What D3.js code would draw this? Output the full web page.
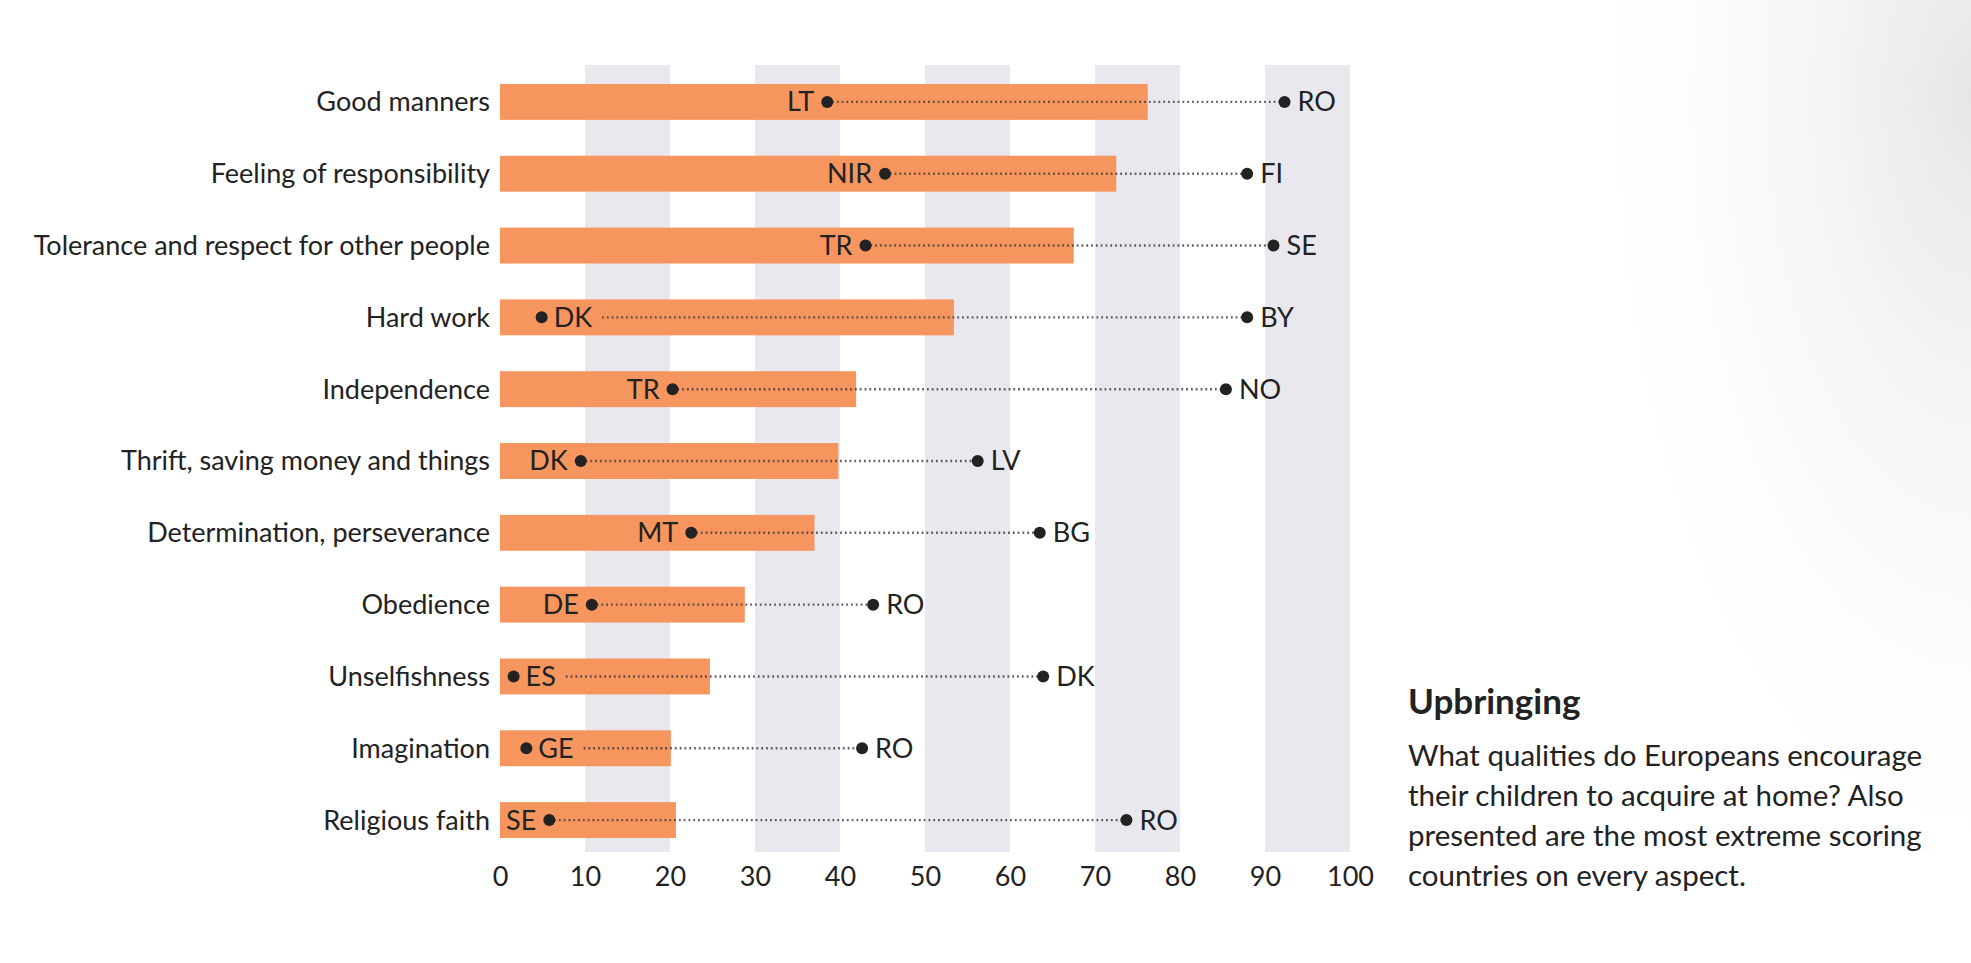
<!DOCTYPE html>
<html><head><meta charset="utf-8">
<script src="https://cdn.jsdelivr.net/npm/d3@7"></script>
<style>
html,body{margin:0;padding:0;background:#fff;}
svg{display:block;}
text{font-family:Lato, "Noto Sans", sans-serif;fill:#222;}
</style></head>
<body>
<svg id="c" width="1971" height="963"></svg>
<script>
const categories = ["Good manners","Feeling of responsibility","Tolerance and respect for other people","Hard work","Independence","Thrift, saving money and things","Determination, perseverance","Obedience","Unselfishness","Imagination","Religious faith"];
const average = [76.2,72.5,67.5,53.4,41.9,39.8,37.0,28.8,24.7,20.1,20.7];
const minValue = [38.5,45.3,43.0,4.9,20.3,9.5,22.5,10.8,1.6,3.1,5.8];
const minCountry = ["LT","NIR","TR","DK","TR","DK","MT","DE","ES","GE","SE"];
const minLabelSide = ["left","left","left","right","left","left","left","left","right","right","left"];
const maxValue = [92.3,87.9,91.0,87.9,85.4,56.2,63.5,43.9,63.9,42.6,73.7];
const maxCountry = ["RO","FI","SE","BY","NO","LV","BG","RO","DK","RO","RO"];
const tickValues = [0,10,20,30,40,50,60,70,80,90,100];
const shadedRanges = [[10,20],[30,40],[50,60],[70,80],[90,100]];
const title = "Upbringing";
const subtitle = ["What qualities do Europeans encourage","their children to acquire at home? Also","presented are the most extreme scoring","countries on every aspect."];

const svg = d3.select("#c");
const defs = svg.append("defs");
const g1 = defs.append("radialGradient").attr("id","bg").attr("cx","1").attr("cy","0.1").attr("r","0.9");
g1.append("stop").attr("offset","0").attr("stop-color","#e6e6e6").attr("stop-opacity",1);
g1.append("stop").attr("offset","1").attr("stop-color","#fff").attr("stop-opacity",0);
svg.append("rect").attr("x",1500).attr("y",0).attr("width",471).attr("height",963).attr("fill","url(#bg)");

const x = d3.scaleLinear().domain([0,100]).range([500,1350]);
const y = d3.scaleBand().domain(categories).range([66,856]).paddingInner(0.5).paddingOuter(0.25);
const FS = 27;

// shaded bands
svg.append("g").selectAll("rect").data(shadedRanges).join("rect")
  .attr("x",d=>x(d[0])).attr("width",d=>x(d[1])-x(d[0]))
  .attr("y",65).attr("height",852-65).attr("fill","#e8e8ee");

// bars
svg.append("g").selectAll("rect").data(categories).join("rect")
  .attr("x",x(0)).attr("y",d=>y(d)).attr("height",y.bandwidth())
  .attr("width",(d,i)=>x(average[i])-x(0)).attr("fill","#f7955e");

// category labels
svg.append("g").selectAll("text").data(categories).join("text")
  .attr("x",x(0)-10).attr("y",d=>y(d)+y.bandwidth()/2).attr("dy","0.35em")
  .attr("text-anchor","end").attr("font-size",FS).text(d=>d);

// rows
const rows = svg.append("g").selectAll("g").data(categories).join("g")
  .attr("transform",d=>`translate(0,${y(d)+y.bandwidth()/2})`);

rows.each(function(d,i){
  const g = d3.select(this);
  const xmin = x(minValue[i]), xmax = x(maxValue[i]);
  const lab = g.append("text").attr("font-size",FS).attr("dy","0.35em").text(minCountry[i]);
  let start = xmin;
  if(minLabelSide[i]==="left"){
    lab.attr("x",xmin-13).attr("text-anchor","end");
  } else {
    lab.attr("x",xmin+12).attr("text-anchor","start");
    start = xmin + 12 + lab.node().getComputedTextLength() + 10;
  }
  g.insert("line","text").attr("x1",start).attr("x2",xmax).attr("y1",0).attr("y2",0)
    .attr("stroke","#3a3a3a").attr("stroke-opacity",0.8).attr("stroke-width",2.4).attr("stroke-dasharray","1.8,3");
  g.append("circle").attr("cx",xmin).attr("cy",0).attr("r",6).attr("fill","#222");
  g.append("circle").attr("cx",xmax).attr("cy",0).attr("r",6).attr("fill","#222");
  g.append("text").attr("font-size",FS).attr("dy","0.35em").attr("x",xmax+13).text(maxCountry[i]);
});

// axis
const axis = d3.axisBottom(x).tickValues(tickValues).tickSize(0).tickPadding(0);
const ag = svg.append("g").attr("transform","translate(0,867)").call(axis);
ag.select(".domain").remove();
ag.selectAll("text").attr("font-size",FS).attr("font-family","Lato, 'Noto Sans', sans-serif").attr("fill","#222").attr("dy","0.71em");

// text block
svg.append("text").attr("x",1408).attr("y",714).attr("font-size",35).attr("font-weight","bold").text(title);
svg.append("g").selectAll("text").data(subtitle).join("text")
  .attr("x",1408).attr("y",(d,i)=>766+i*40).attr("font-size",29.5).text(d=>d);
</script>
</body></html>
